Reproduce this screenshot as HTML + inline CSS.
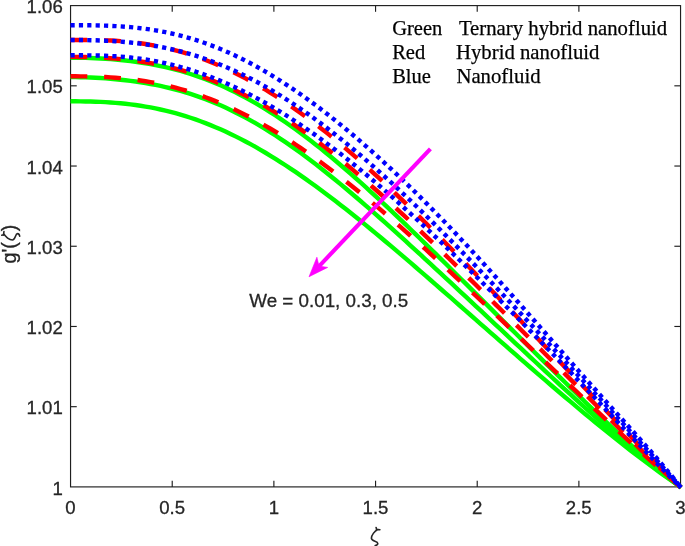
<!DOCTYPE html>
<html><head><meta charset="utf-8"><title>g'(zeta) profiles</title>
<style>
html,body{margin:0;padding:0;background:#fff;}
body{width:685px;height:546px;overflow:hidden;}
svg{display:block;}
.t{font-family:"Liberation Sans",sans-serif;font-size:18.6px;fill:#262626;stroke:#262626;stroke-width:0.3px;}
.l{font-family:"Liberation Serif",serif;font-size:20.75px;fill:#000;stroke:#000;stroke-width:0.25px;}
</style></head><body>
<svg width="685" height="546" viewBox="0 0 685 546">
<rect x="0" y="0" width="685" height="546" fill="#ffffff"/>
<g stroke="#1f1f1f" stroke-width="1.15" fill="none">
<rect x="70.55" y="5.6" width="610.00" height="481.30"/>
<line x1="172.22" y1="486.9" x2="172.22" y2="480.70"/>
<line x1="172.22" y1="5.6" x2="172.22" y2="11.80"/>
<line x1="273.88" y1="486.9" x2="273.88" y2="480.70"/>
<line x1="273.88" y1="5.6" x2="273.88" y2="11.80"/>
<line x1="375.55" y1="486.9" x2="375.55" y2="480.70"/>
<line x1="375.55" y1="5.6" x2="375.55" y2="11.80"/>
<line x1="477.22" y1="486.9" x2="477.22" y2="480.70"/>
<line x1="477.22" y1="5.6" x2="477.22" y2="11.80"/>
<line x1="578.88" y1="486.9" x2="578.88" y2="480.70"/>
<line x1="578.88" y1="5.6" x2="578.88" y2="11.80"/>
<line x1="70.55" y1="406.68" x2="76.75" y2="406.68"/>
<line x1="680.55" y1="406.68" x2="674.35" y2="406.68"/>
<line x1="70.55" y1="326.47" x2="76.75" y2="326.47"/>
<line x1="680.55" y1="326.47" x2="674.35" y2="326.47"/>
<line x1="70.55" y1="246.25" x2="76.75" y2="246.25"/>
<line x1="680.55" y1="246.25" x2="674.35" y2="246.25"/>
<line x1="70.55" y1="166.03" x2="76.75" y2="166.03"/>
<line x1="680.55" y1="166.03" x2="674.35" y2="166.03"/>
<line x1="70.55" y1="85.82" x2="76.75" y2="85.82"/>
<line x1="680.55" y1="85.82" x2="674.35" y2="85.82"/>
</g>
<g fill="none" stroke-linejoin="round">
<path d="M70.50,101.30 L75.50,101.31 L80.50,101.35 L85.50,101.43 L90.50,101.54 L95.50,101.70 L100.50,101.90 L105.50,102.16 L110.50,102.47 L115.50,102.85 L120.50,103.29 L125.50,103.79 L130.50,104.37 L135.50,105.02 L140.50,105.75 L145.50,106.56 L150.50,107.45 L155.50,108.42 L160.50,109.48 L165.50,110.63 L170.50,111.87 L175.50,113.20 L180.50,114.62 L185.50,116.13 L190.50,117.74 L195.50,119.44 L200.50,121.23 L205.50,123.11 L210.50,125.09 L215.50,127.16 L220.50,129.33 L225.50,131.58 L230.50,133.92 L235.50,136.36 L240.50,138.88 L245.50,141.49 L250.50,144.18 L255.50,146.95 L260.50,149.81 L265.50,152.75 L270.50,155.76 L275.50,158.85 L280.50,162.02 L285.50,165.25 L290.50,168.56 L295.50,171.93 L300.50,175.37 L305.50,178.87 L310.50,182.42 L315.50,186.04 L320.50,189.71 L325.50,193.44 L330.50,197.22 L335.50,201.04 L340.50,204.91 L345.50,208.82 L350.50,212.78 L355.50,216.77 L360.50,220.80 L365.50,224.87 L370.50,228.97 L375.50,233.10 L380.50,237.26 L385.50,241.44 L390.50,245.65 L395.50,249.88 L400.50,254.14 L405.50,258.41 L410.50,262.70 L415.50,267.01 L420.50,271.33 L425.50,275.66 L430.50,280.00 L435.50,284.36 L440.50,288.72 L445.50,293.09 L450.50,297.47 L455.50,301.85 L460.50,306.24 L465.50,310.63 L470.50,315.02 L475.50,319.41 L480.50,323.80 L485.50,328.19 L490.50,332.58 L495.50,336.96 L500.50,341.34 L505.50,345.72 L510.50,350.09 L515.50,354.45 L520.50,358.80 L525.50,363.15 L530.50,367.48 L535.50,371.81 L540.50,376.12 L545.50,380.42 L550.50,384.71 L555.50,388.98 L560.50,393.23 L565.50,397.47 L570.50,401.69 L575.50,405.89 L580.50,410.07 L585.50,414.22 L590.50,418.36 L595.50,422.47 L600.50,426.55 L605.50,430.60 L610.50,434.62 L615.50,438.62 L620.50,442.58 L625.50,446.50 L630.50,450.39 L635.50,454.25 L640.50,458.06 L645.50,461.83 L650.50,465.57 L655.50,469.25 L660.50,472.90 L665.50,476.50 L670.50,480.05 L675.50,483.55 L680.50,487.00 L681.08,487.40" stroke="#00ff00" stroke-width="4.4"/>
<path d="M70.50,77.10 L75.50,77.13 L80.50,77.21 L85.50,77.35 L90.50,77.54 L95.50,77.77 L100.50,78.06 L105.50,78.40 L110.50,78.78 L115.50,79.22 L120.50,79.71 L125.50,80.26 L130.50,80.87 L135.50,81.54 L140.50,82.28 L145.50,83.08 L150.50,83.96 L155.50,84.91 L160.50,85.95 L165.50,87.06 L170.50,88.26 L175.50,89.54 L180.50,90.91 L185.50,92.38 L190.50,93.94 L195.50,95.59 L200.50,97.35 L205.50,99.20 L210.50,101.15 L215.50,103.20 L220.50,105.35 L225.50,107.60 L230.50,109.95 L235.50,112.40 L240.50,114.96 L245.50,117.61 L250.50,120.36 L255.50,123.20 L260.50,126.14 L265.50,129.17 L270.50,132.29 L275.50,135.50 L280.50,138.80 L285.50,142.18 L290.50,145.64 L295.50,149.18 L300.50,152.79 L305.50,156.48 L310.50,160.24 L315.50,164.06 L320.50,167.95 L325.50,171.90 L330.50,175.91 L335.50,179.97 L340.50,184.08 L345.50,188.24 L350.50,192.45 L355.50,196.70 L360.50,200.99 L365.50,205.31 L370.50,209.68 L375.50,214.07 L380.50,218.49 L385.50,222.94 L390.50,227.42 L395.50,231.92 L400.50,236.44 L405.50,240.98 L410.50,245.54 L415.50,250.11 L420.50,254.70 L425.50,259.30 L430.50,263.91 L435.50,268.53 L440.50,273.17 L445.50,277.81 L450.50,282.46 L455.50,287.12 L460.50,291.78 L465.50,296.45 L470.50,301.12 L475.50,305.80 L480.50,310.48 L485.50,315.16 L490.50,319.85 L495.50,324.53 L500.50,329.22 L505.50,333.91 L510.50,338.60 L515.50,343.29 L520.50,347.97 L525.50,352.66 L530.50,357.34 L535.50,362.01 L540.50,366.68 L545.50,371.34 L550.50,375.99 L555.50,380.64 L560.50,385.27 L565.50,389.88 L570.50,394.48 L575.50,399.06 L580.50,403.63 L585.50,408.16 L590.50,412.68 L595.50,417.17 L600.50,421.62 L605.50,426.05 L610.50,430.44 L615.50,434.79 L620.50,439.10 L625.50,443.37 L630.50,447.59 L635.50,451.77 L640.50,455.90 L645.50,459.97 L650.50,464.00 L655.50,467.96 L660.50,471.88 L665.50,475.74 L670.50,479.54 L675.50,483.30 L680.50,487.00 L681.06,487.42" stroke="#00ff00" stroke-width="4.4"/>
<path d="M70.50,57.70 L75.50,57.72 L80.50,57.79 L85.50,57.90 L90.50,58.05 L95.50,58.25 L100.50,58.50 L105.50,58.80 L110.50,59.15 L115.50,59.55 L120.50,60.01 L125.50,60.53 L130.50,61.11 L135.50,61.75 L140.50,62.47 L145.50,63.26 L150.50,64.12 L155.50,65.05 L160.50,66.07 L165.50,67.17 L170.50,68.36 L175.50,69.63 L180.50,70.99 L185.50,72.45 L190.50,74.00 L195.50,75.64 L200.50,77.38 L205.50,79.22 L210.50,81.16 L215.50,83.20 L220.50,85.34 L225.50,87.59 L230.50,89.93 L235.50,92.37 L240.50,94.92 L245.50,97.56 L250.50,100.31 L255.50,103.15 L260.50,106.09 L265.50,109.13 L270.50,112.27 L275.50,115.49 L280.50,118.81 L285.50,122.22 L290.50,125.71 L295.50,129.29 L300.50,132.96 L305.50,136.70 L310.50,140.53 L315.50,144.42 L320.50,148.40 L325.50,152.44 L330.50,156.55 L335.50,160.72 L340.50,164.96 L345.50,169.26 L350.50,173.61 L355.50,178.02 L360.50,182.48 L365.50,186.98 L370.50,191.53 L375.50,196.13 L380.50,200.76 L385.50,205.43 L390.50,210.14 L395.50,214.88 L400.50,219.64 L405.50,224.44 L410.50,229.26 L415.50,234.11 L420.50,238.97 L425.50,243.86 L430.50,248.76 L435.50,253.68 L440.50,258.61 L445.50,263.55 L450.50,268.51 L455.50,273.47 L460.50,278.44 L465.50,283.42 L470.50,288.40 L475.50,293.39 L480.50,298.38 L485.50,303.37 L490.50,308.36 L495.50,313.36 L500.50,318.35 L505.50,323.34 L510.50,328.33 L515.50,333.31 L520.50,338.29 L525.50,343.26 L530.50,348.23 L535.50,353.20 L540.50,358.15 L545.50,363.10 L550.50,368.04 L555.50,372.96 L560.50,377.88 L565.50,382.78 L570.50,387.67 L575.50,392.54 L580.50,397.40 L585.50,402.23 L590.50,407.05 L595.50,411.85 L600.50,416.61 L605.50,421.36 L610.50,426.07 L615.50,430.75 L620.50,435.39 L625.50,440.00 L630.50,444.56 L635.50,449.08 L640.50,453.55 L645.50,457.97 L650.50,462.32 L655.50,466.62 L660.50,470.85 L665.50,475.01 L670.50,479.09 L675.50,483.09 L680.50,487.00 L681.05,487.43" stroke="#00ff00" stroke-width="4.4"/>
<path d="M70.50,76.30 L75.50,76.31 L80.50,76.34 L85.50,76.40 L90.50,76.50 L95.50,76.64 L100.50,76.82 L105.50,77.05 L110.50,77.34 L115.50,77.69 L120.50,78.10 L125.50,78.58 L130.50,79.13 L135.50,79.76 L140.50,80.46 L145.50,81.23 L150.50,82.09 L155.50,83.03 L160.50,84.05 L165.50,85.16 L170.50,86.36 L175.50,87.64 L180.50,89.01 L185.50,90.47 L190.50,92.02 L195.50,93.65 L200.50,95.38 L205.50,97.20 L210.50,99.11 L215.50,101.10 L220.50,103.19 L225.50,105.36 L230.50,107.62 L235.50,109.97 L240.50,112.40 L245.50,114.92 L250.50,117.52 L255.50,120.20 L260.50,122.97 L265.50,125.81 L270.50,128.74 L275.50,131.74 L280.50,134.82 L285.50,137.97 L290.50,141.19 L295.50,144.48 L300.50,147.85 L305.50,151.28 L310.50,154.78 L315.50,158.34 L320.50,161.96 L325.50,165.65 L330.50,169.39 L335.50,173.19 L340.50,177.04 L345.50,180.95 L350.50,184.91 L355.50,188.92 L360.50,192.97 L365.50,197.08 L370.50,201.22 L375.50,205.41 L380.50,209.64 L385.50,213.91 L390.50,218.21 L395.50,222.55 L400.50,226.92 L405.50,231.33 L410.50,235.76 L415.50,240.23 L420.50,244.72 L425.50,249.24 L430.50,253.78 L435.50,258.34 L440.50,262.93 L445.50,267.53 L450.50,272.16 L455.50,276.80 L460.50,281.46 L465.50,286.13 L470.50,290.82 L475.50,295.52 L480.50,300.23 L485.50,304.95 L490.50,309.68 L495.50,314.42 L500.50,319.16 L505.50,323.92 L510.50,328.68 L515.50,333.44 L520.50,338.21 L525.50,342.98 L530.50,347.76 L535.50,352.53 L540.50,357.31 L545.50,362.08 L550.50,366.86 L555.50,371.63 L560.50,376.41 L565.50,381.18 L570.50,385.94 L575.50,390.70 L580.50,395.45 L585.50,400.20 L590.50,404.94 L595.50,409.67 L600.50,414.39 L605.50,419.10 L610.50,423.79 L615.50,428.47 L620.50,433.14 L625.50,437.78 L630.50,442.41 L635.50,447.01 L640.50,451.59 L645.50,456.15 L650.50,460.67 L655.50,465.16 L660.50,469.61 L665.50,474.03 L670.50,478.40 L675.50,482.73 L680.50,487.00 L681.03,487.45" stroke="#ff0000" stroke-width="4.4" stroke-dasharray="16.8 16.8"/>
<path d="M70.50,56.90 L75.50,56.92 L80.50,56.97 L85.50,57.07 L90.50,57.21 L95.50,57.39 L100.50,57.62 L105.50,57.90 L110.50,58.24 L115.50,58.63 L120.50,59.07 L125.50,59.58 L130.50,60.15 L135.50,60.79 L140.50,61.49 L145.50,62.27 L150.50,63.12 L155.50,64.04 L160.50,65.05 L165.50,66.13 L170.50,67.29 L175.50,68.54 L180.50,69.87 L185.50,71.29 L190.50,72.80 L195.50,74.40 L200.50,76.08 L205.50,77.86 L210.50,79.73 L215.50,81.69 L220.50,83.75 L225.50,85.90 L230.50,88.14 L235.50,90.48 L240.50,92.91 L245.50,95.43 L250.50,98.04 L255.50,100.75 L260.50,103.55 L265.50,106.44 L270.50,109.41 L275.50,112.48 L280.50,115.63 L285.50,118.87 L290.50,122.19 L295.50,125.59 L300.50,129.07 L305.50,132.63 L310.50,136.27 L315.50,139.98 L320.50,143.77 L325.50,147.62 L330.50,151.54 L335.50,155.53 L340.50,159.58 L345.50,163.70 L350.50,167.87 L355.50,172.09 L360.50,176.38 L365.50,180.71 L370.50,185.09 L375.50,189.52 L380.50,193.99 L385.50,198.50 L390.50,203.06 L395.50,207.65 L400.50,212.27 L405.50,216.93 L410.50,221.62 L415.50,226.34 L420.50,231.08 L425.50,235.85 L430.50,240.65 L435.50,245.46 L440.50,250.29 L445.50,255.14 L450.50,260.01 L455.50,264.89 L460.50,269.78 L465.50,274.69 L470.50,279.61 L475.50,284.54 L480.50,289.48 L485.50,294.42 L490.50,299.38 L495.50,304.34 L500.50,309.31 L505.50,314.28 L510.50,319.26 L515.50,324.25 L520.50,329.24 L525.50,334.23 L530.50,339.23 L535.50,344.23 L540.50,349.24 L545.50,354.25 L550.50,359.27 L555.50,364.29 L560.50,369.31 L565.50,374.33 L570.50,379.36 L575.50,384.39 L580.50,389.42 L585.50,394.45 L590.50,399.49 L595.50,404.51 L600.50,409.54 L605.50,414.56 L610.50,419.58 L615.50,424.58 L620.50,429.58 L625.50,434.56 L630.50,439.52 L635.50,444.46 L640.50,449.38 L645.50,454.26 L650.50,459.10 L655.50,463.91 L660.50,468.66 L665.50,473.35 L670.50,477.98 L675.50,482.53 L680.50,487.00 L681.02,487.47" stroke="#ff0000" stroke-width="4.4" stroke-dasharray="16.8 16.8"/>
<path d="M70.50,40.00 L75.50,39.99 L80.50,39.99 L85.50,39.99 L90.50,40.02 L95.50,40.08 L100.50,40.18 L105.50,40.33 L110.50,40.53 L115.50,40.80 L120.50,41.14 L125.50,41.55 L130.50,42.03 L135.50,42.60 L140.50,43.24 L145.50,43.98 L150.50,44.80 L155.50,45.72 L160.50,46.72 L165.50,47.82 L170.50,49.01 L175.50,50.30 L180.50,51.68 L185.50,53.16 L190.50,54.74 L195.50,56.41 L200.50,58.18 L205.50,60.04 L210.50,62.00 L215.50,64.06 L220.50,66.21 L225.50,68.45 L230.50,70.79 L235.50,73.23 L240.50,75.75 L245.50,78.37 L250.50,81.07 L255.50,83.87 L260.50,86.76 L265.50,89.73 L270.50,92.79 L275.50,95.94 L280.50,99.17 L285.50,102.49 L290.50,105.89 L295.50,109.37 L300.50,112.93 L305.50,116.57 L310.50,120.28 L315.50,124.07 L320.50,127.94 L325.50,131.87 L330.50,135.88 L335.50,139.96 L340.50,144.10 L345.50,148.31 L350.50,152.58 L355.50,156.91 L360.50,161.30 L365.50,165.75 L370.50,170.26 L375.50,174.82 L380.50,179.42 L385.50,184.08 L390.50,188.78 L395.50,193.53 L400.50,198.32 L405.50,203.15 L410.50,208.01 L415.50,212.91 L420.50,217.85 L425.50,222.81 L430.50,227.80 L435.50,232.82 L440.50,237.87 L445.50,242.93 L450.50,248.02 L455.50,253.12 L460.50,258.25 L465.50,263.38 L470.50,268.53 L475.50,273.70 L480.50,278.87 L485.50,284.05 L490.50,289.25 L495.50,294.44 L500.50,299.65 L505.50,304.86 L510.50,310.08 L515.50,315.30 L520.50,320.52 L525.50,325.75 L530.50,330.98 L535.50,336.22 L540.50,341.45 L545.50,346.70 L550.50,351.94 L555.50,357.19 L560.50,362.45 L565.50,367.71 L570.50,372.97 L575.50,378.24 L580.50,383.51 L585.50,388.79 L590.50,394.07 L595.50,399.35 L600.50,404.64 L605.50,409.93 L610.50,415.22 L615.50,420.51 L620.50,425.80 L625.50,431.08 L630.50,436.35 L635.50,441.60 L640.50,446.84 L645.50,452.04 L650.50,457.22 L655.50,462.35 L660.50,467.43 L665.50,472.45 L670.50,477.40 L675.50,482.25 L680.50,487.00 L681.01,487.48" stroke="#ff0000" stroke-width="4.4" stroke-dasharray="16.8 16.8"/>
<path d="M70.50,55.30 L75.50,55.30 L80.50,55.30 L85.50,55.33 L90.50,55.37 L95.50,55.46 L100.50,55.58 L105.50,55.76 L110.50,55.99 L115.50,56.28 L120.50,56.63 L125.50,57.05 L130.50,57.55 L135.50,58.12 L140.50,58.77 L145.50,59.51 L150.50,60.32 L155.50,61.22 L160.50,62.20 L165.50,63.27 L170.50,64.43 L175.50,65.67 L180.50,67.01 L185.50,68.43 L190.50,69.94 L195.50,71.54 L200.50,73.23 L205.50,75.01 L210.50,76.87 L215.50,78.82 L220.50,80.86 L225.50,82.99 L230.50,85.20 L235.50,87.49 L240.50,89.87 L245.50,92.34 L250.50,94.89 L255.50,97.52 L260.50,100.23 L265.50,103.02 L270.50,105.89 L275.50,108.84 L280.50,111.87 L285.50,114.97 L290.50,118.15 L295.50,121.40 L300.50,124.73 L305.50,128.13 L310.50,131.60 L315.50,135.13 L320.50,138.74 L325.50,142.41 L330.50,146.15 L335.50,149.95 L340.50,153.82 L345.50,157.74 L350.50,161.73 L355.50,165.77 L360.50,169.87 L365.50,174.02 L370.50,178.23 L375.50,182.49 L380.50,186.79 L385.50,191.15 L390.50,195.55 L395.50,199.99 L400.50,204.48 L405.50,209.01 L410.50,213.58 L415.50,218.18 L420.50,222.82 L425.50,227.50 L430.50,232.21 L435.50,236.94 L440.50,241.71 L445.50,246.51 L450.50,251.33 L455.50,256.17 L460.50,261.04 L465.50,265.93 L470.50,270.84 L475.50,275.77 L480.50,280.73 L485.50,285.69 L490.50,290.68 L495.50,295.68 L500.50,300.70 L505.50,305.73 L510.50,310.77 L515.50,315.83 L520.50,320.90 L525.50,325.99 L530.50,331.09 L535.50,336.20 L540.50,341.32 L545.50,346.46 L550.50,351.61 L555.50,356.77 L560.50,361.94 L565.50,367.13 L570.50,372.33 L575.50,377.54 L580.50,382.77 L585.50,388.00 L590.50,393.25 L595.50,398.51 L600.50,403.78 L605.50,409.06 L610.50,414.35 L615.50,419.64 L620.50,424.93 L625.50,430.23 L630.50,435.52 L635.50,440.80 L640.50,446.08 L645.50,451.33 L650.50,456.57 L655.50,461.77 L660.50,466.94 L665.50,472.05 L670.50,477.11 L675.50,482.10 L680.50,487.00 L681.00,487.49" stroke="#0000ff" stroke-width="4.4" stroke-dasharray="4.2 4.17"/>
<path d="M70.50,40.00 L75.50,40.01 L80.50,40.04 L85.50,40.10 L90.50,40.19 L95.50,40.31 L100.50,40.48 L105.50,40.69 L110.50,40.94 L115.50,41.25 L120.50,41.61 L125.50,42.04 L130.50,42.52 L135.50,43.07 L140.50,43.69 L145.50,44.38 L150.50,45.14 L155.50,45.98 L160.50,46.90 L165.50,47.90 L170.50,48.99 L175.50,50.15 L180.50,51.41 L185.50,52.75 L190.50,54.18 L195.50,55.71 L200.50,57.32 L205.50,59.02 L210.50,60.82 L215.50,62.71 L220.50,64.69 L225.50,66.77 L230.50,68.94 L235.50,71.20 L240.50,73.55 L245.50,76.00 L250.50,78.53 L255.50,81.16 L260.50,83.88 L265.50,86.69 L270.50,89.58 L275.50,92.56 L280.50,95.63 L285.50,98.78 L290.50,102.02 L295.50,105.34 L300.50,108.74 L305.50,112.22 L310.50,115.77 L315.50,119.41 L320.50,123.11 L325.50,126.89 L330.50,130.74 L335.50,134.67 L340.50,138.66 L345.50,142.71 L350.50,146.83 L355.50,151.01 L360.50,155.26 L365.50,159.56 L370.50,163.92 L375.50,168.34 L380.50,172.81 L385.50,177.33 L390.50,181.91 L395.50,186.53 L400.50,191.20 L405.50,195.92 L410.50,200.68 L415.50,205.48 L420.50,210.32 L425.50,215.20 L430.50,220.12 L435.50,225.08 L440.50,230.07 L445.50,235.09 L450.50,240.14 L455.50,245.23 L460.50,250.34 L465.50,255.48 L470.50,260.64 L475.50,265.82 L480.50,271.03 L485.50,276.26 L490.50,281.51 L495.50,286.77 L500.50,292.06 L505.50,297.35 L510.50,302.67 L515.50,307.99 L520.50,313.32 L525.50,318.67 L530.50,324.02 L535.50,329.38 L540.50,334.75 L545.50,340.12 L550.50,345.50 L555.50,350.88 L560.50,356.27 L565.50,361.65 L570.50,367.04 L575.50,372.43 L580.50,377.82 L585.50,383.21 L590.50,388.59 L595.50,393.98 L600.50,399.37 L605.50,404.77 L610.50,410.16 L615.50,415.55 L620.50,420.95 L625.50,426.36 L630.50,431.77 L635.50,437.19 L640.50,442.63 L645.50,448.08 L650.50,453.54 L655.50,459.03 L660.50,464.55 L665.50,470.10 L670.50,475.69 L675.50,481.32 L680.50,487.00 L680.96,487.53" stroke="#0000ff" stroke-width="4.4" stroke-dasharray="4.2 4.17"/>
<path d="M70.50,25.20 L75.50,25.20 L80.50,25.22 L85.50,25.25 L90.50,25.31 L95.50,25.39 L100.50,25.50 L105.50,25.65 L110.50,25.85 L115.50,26.09 L120.50,26.39 L125.50,26.74 L130.50,27.16 L135.50,27.64 L140.50,28.20 L145.50,28.83 L150.50,29.54 L155.50,30.33 L160.50,31.21 L165.50,32.17 L170.50,33.23 L175.50,34.37 L180.50,35.61 L185.50,36.95 L190.50,38.38 L195.50,39.92 L200.50,41.55 L205.50,43.27 L210.50,45.10 L215.50,47.03 L220.50,49.06 L225.50,51.18 L230.50,53.41 L235.50,55.73 L240.50,58.15 L245.50,60.66 L250.50,63.27 L255.50,65.97 L260.50,68.77 L265.50,71.65 L270.50,74.62 L275.50,77.68 L280.50,80.83 L285.50,84.06 L290.50,87.37 L295.50,90.76 L300.50,94.23 L305.50,97.78 L310.50,101.40 L315.50,105.10 L320.50,108.86 L325.50,112.70 L330.50,116.61 L335.50,120.59 L340.50,124.63 L345.50,128.74 L350.50,132.91 L355.50,137.14 L360.50,141.43 L365.50,145.79 L370.50,150.20 L375.50,154.67 L380.50,159.20 L385.50,163.78 L390.50,168.42 L395.50,173.12 L400.50,177.86 L405.50,182.66 L410.50,187.51 L415.50,192.41 L420.50,197.36 L425.50,202.36 L430.50,207.41 L435.50,212.50 L440.50,217.64 L445.50,222.83 L450.50,228.06 L455.50,233.33 L460.50,238.64 L465.50,243.99 L470.50,249.37 L475.50,254.80 L480.50,260.26 L485.50,265.75 L490.50,271.27 L495.50,276.82 L500.50,282.39 L505.50,287.99 L510.50,293.61 L515.50,299.25 L520.50,304.90 L525.50,310.57 L530.50,316.25 L535.50,321.94 L540.50,327.63 L545.50,333.32 L550.50,339.01 L555.50,344.70 L560.50,350.39 L565.50,356.06 L570.50,361.73 L575.50,367.38 L580.50,373.02 L585.50,378.64 L590.50,384.25 L595.50,389.84 L600.50,395.42 L605.50,400.98 L610.50,406.53 L615.50,412.08 L620.50,417.61 L625.50,423.15 L630.50,428.69 L635.50,434.24 L640.50,439.82 L645.50,445.43 L650.50,451.08 L655.50,456.80 L660.50,462.60 L665.50,468.49 L670.50,474.51 L675.50,480.67 L680.50,487.00 L680.93,487.55" stroke="#0000ff" stroke-width="4.4" stroke-dasharray="4.2 4.17"/>
</g>
<g stroke="#ff00ff" fill="#ff00ff">
<line x1="430.4" y1="148.9" x2="318.5" y2="266.8" stroke-width="4.1"/>
<path d="M309.0,276.8 L316.9,257.2 L319.0,266.0 L327.7,267.4 Z" stroke-width="0.6" stroke-linejoin="round"/>
</g>
<g opacity="0.999">
<g class="t">
<text x="70.5" y="514.2" text-anchor="middle">0</text>
<text x="172.2" y="514.2" text-anchor="middle">0.5</text>
<text x="273.8" y="514.2" text-anchor="middle">1</text>
<text x="375.5" y="514.2" text-anchor="middle">1.5</text>
<text x="477.2" y="514.2" text-anchor="middle">2</text>
<text x="578.8" y="514.2" text-anchor="middle">2.5</text>
<text x="680.5" y="514.2" text-anchor="middle">3</text>
<text x="62.8" y="494.6" text-anchor="end">1</text>
<text x="62.8" y="414.4" text-anchor="end">1.01</text>
<text x="62.8" y="334.1" text-anchor="end">1.02</text>
<text x="62.8" y="253.8" text-anchor="end">1.03</text>
<text x="62.8" y="173.6" text-anchor="end">1.04</text>
<text x="62.8" y="93.3" text-anchor="end">1.05</text>
<text x="62.8" y="13.1" text-anchor="end">1.06</text>
</g>
<text class="t" style="font-size:18.8px" x="249.3" y="307.1">We = 0.01, 0.3, 0.5</text>
<g class="t" style="font-size:19.8px">
<text transform="translate(16.0,263.6) rotate(-90)">g'(</text>
<text transform="translate(16.0,231.2) rotate(-90)">)</text>
</g>
<path transform="translate(16.0,240.1) rotate(-90)" d="M4.8,-14.2 L5.3,-12.6 M5.0,-12.55 L8.6,-12.05 M6.4,-12.3 C3.2,-10.6 0.1,-6.5 0.1,-3.6 C0.1,-0.4 6.5,-0.9 6.5,1.6 C6.5,2.8 5.3,3.4 3.9,3.7" fill="none" stroke="#262626" stroke-width="1.6" stroke-linecap="round" stroke-linejoin="round"/>
<path transform="translate(371.3,541.8)" d="M4.8,-14.2 L5.3,-12.6 M5.0,-12.55 L8.6,-12.05 M6.4,-12.3 C3.2,-10.6 0.1,-6.5 0.1,-3.6 C0.1,-0.4 6.5,-0.9 6.5,1.6 C6.5,2.8 5.3,3.4 3.9,3.7" fill="none" stroke="#262626" stroke-width="1.6" stroke-linecap="round" stroke-linejoin="round"/>
<g class="l">
<text x="392.2" y="34.6" style="font-size:20.5px">Green</text>
<text x="458.9" y="34.6">Ternary hybrid nanofluid</text>
<text x="392.2" y="58.9" style="font-size:20.5px">Red</text>
<text x="456.0" y="58.9">Hybrid nanofluid</text>
<text x="392.2" y="83.0" style="font-size:20.5px">Blue</text>
<text x="456.4" y="83.0">Nanofluid</text>
</g>
</g>
</svg></body></html>
